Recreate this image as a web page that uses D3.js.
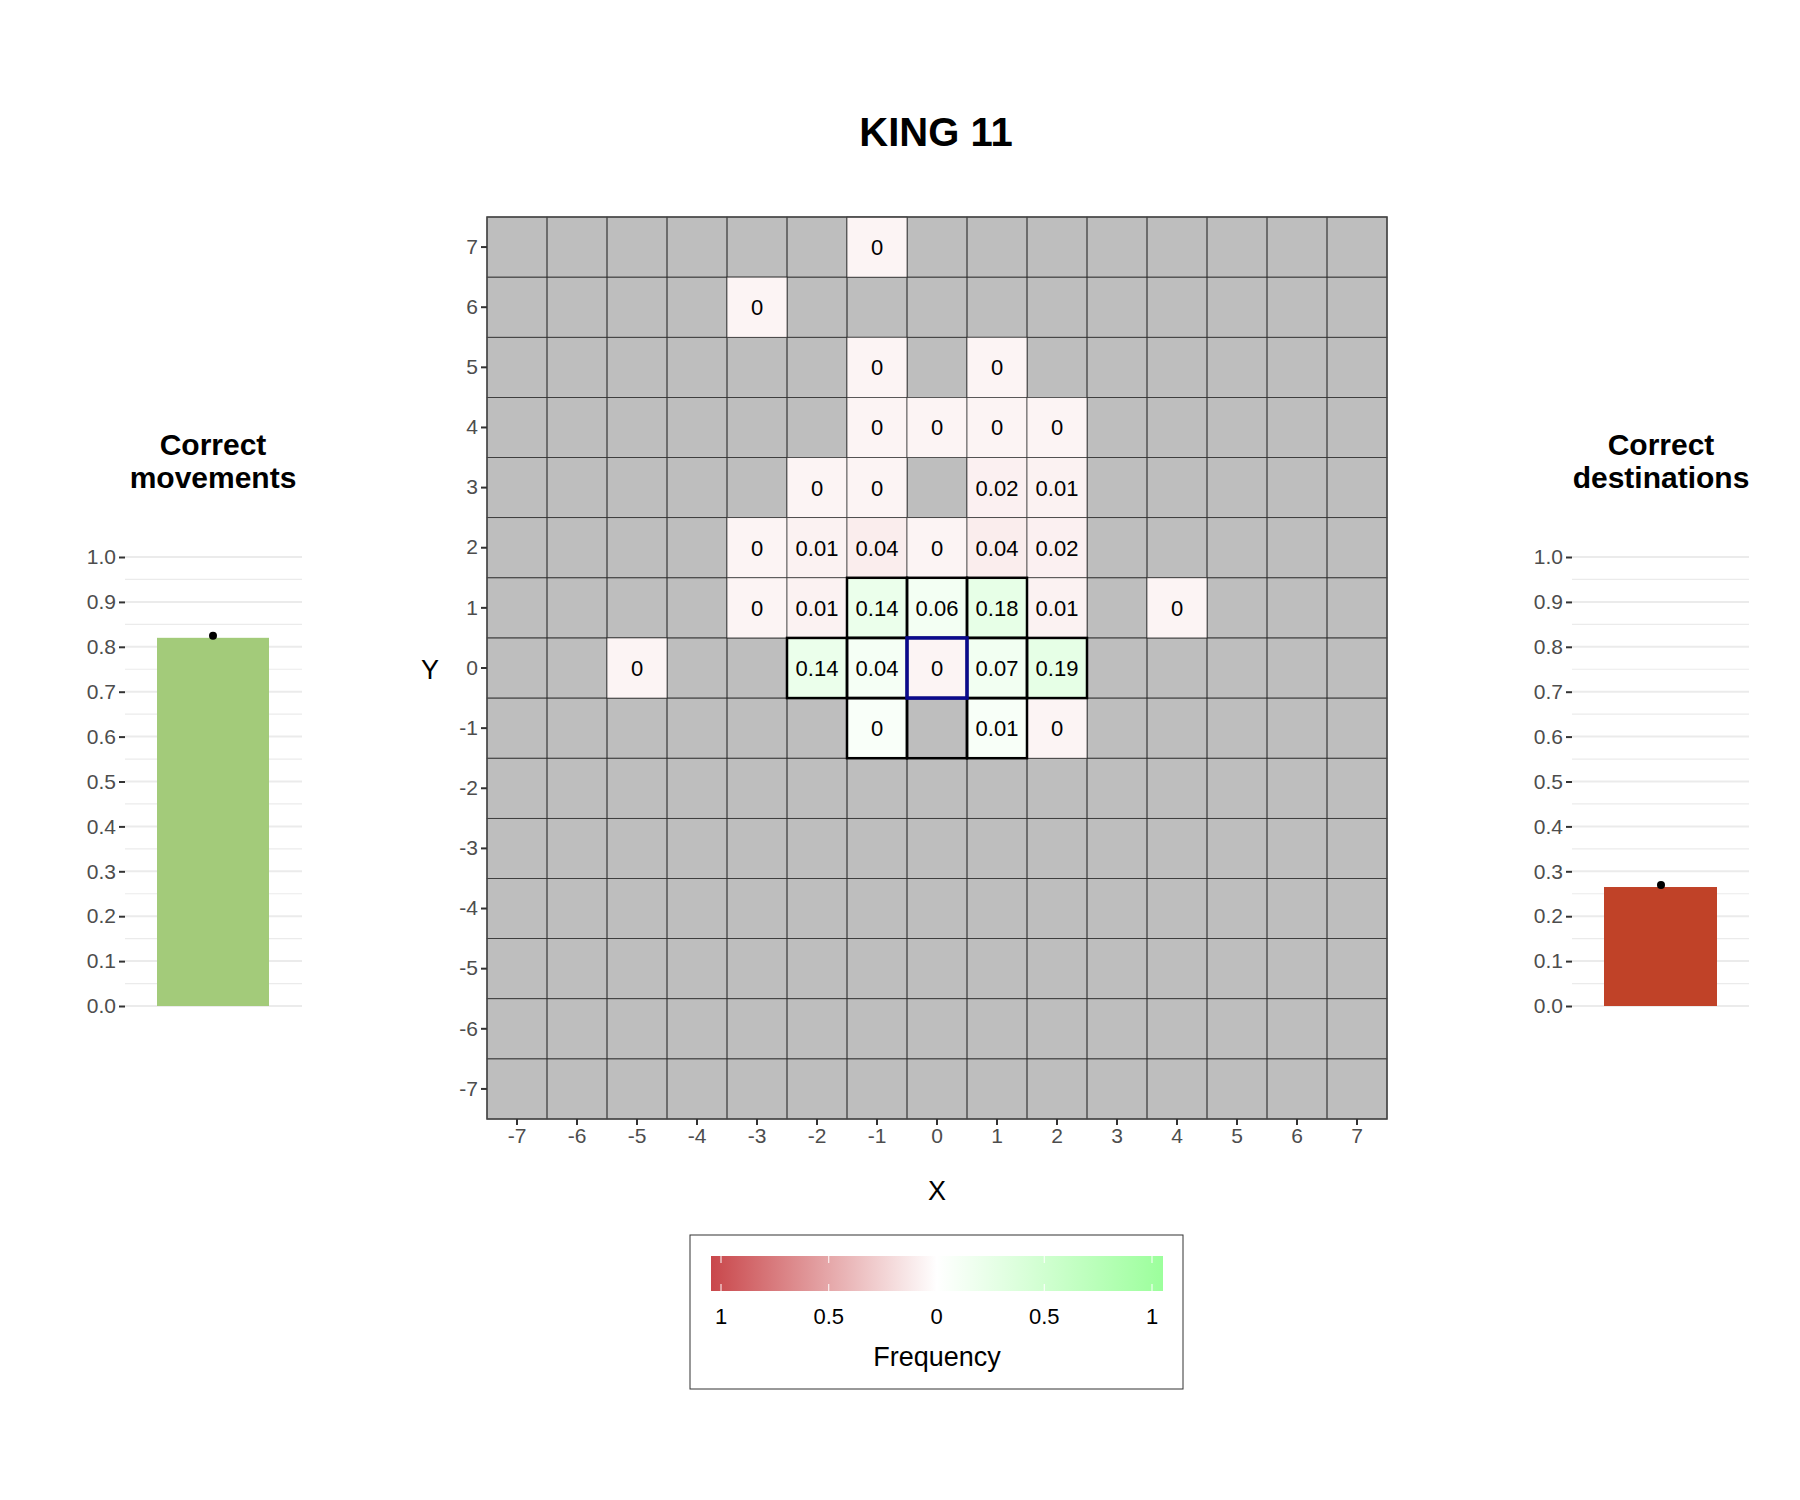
<!DOCTYPE html>
<html><head><meta charset="utf-8">
<script src="https://cdn.jsdelivr.net/npm/d3@7"></script>
<style>body{margin:0;background:#fff;font-family:"Liberation Sans",Arial,sans-serif;}</style>
</head><body>
<script>
// board cells: x, y, frequency, correct (green) or not (red)
var cellX = [-1,-3,-1,1,-1,0,1,2,-2,-1,1,2,-3,-2,-1,0,1,2,-3,-2,-1,0,1,2,4,-5,-2,-1,0,1,2,-1,1,2];
var cellY = [7,6,5,5,4,4,4,4,3,3,3,3,2,2,2,2,2,2,1,1,1,1,1,1,1,0,0,0,0,0,0,-1,-1,-1];
var cellV = [0,0,0,0,0,0,0,0,0,0,0.02,0.01,0,0.01,0.04,0,0.04,0.02,0,0.01,0.14,0.06,0.18,0.01,0,0,0.14,0.04,0,0.07,0.19,0,0.01,0];
var cellOk = [0,0,0,0,0,0,0,0,0,0,0,0,0,0,0,0,0,0,0,0,1,1,1,0,0,0,1,1,0,1,1,1,1,0];
// legal king moves (outlined)
var legalX = [-1,0,1,-2,-1,1,2,-1,0,1];
var legalY = [1,1,1,0,0,0,0,-1,-1,-1];
var startPos = [0,0];
var ticks = d3.range(-7,8);
var barTitles = ["Correct movements","Correct destinations"];
var barValues = [0.82,0.265];
var barColors = ["#a3cb7a","#c04228"];

var svg = d3.select("body").append("svg").attr("width",1800).attr("height",1500);

svg.append("text").attr("x",936).attr("y",146).attr("text-anchor","middle")
  .style("font-size","40px").style("font-weight","bold").text("KING 11");

var x = d3.scaleBand().domain(ticks).range([487,1387]);
var y = d3.scaleBand().domain(ticks.slice().reverse()).range([217,1119]);
var redS = d3.interpolateRgb("#ffffff","#c9474b");
var greenS = d3.interpolateRgb("#ffffff","#9cff9c");
function fillOf(v,ok){ var t = Math.min(1, 0.06 + v); return ok ? greenS(t) : redS(t); }

var g = svg.append("g");
g.append("rect").attr("x",487).attr("y",217).attr("width",900).attr("height",902).attr("fill","#bebebe");
ticks.forEach(function(cx){ ticks.forEach(function(cy){
  g.append("rect").attr("x",x(cx)).attr("y",y(cy)).attr("width",x.bandwidth()).attr("height",y.bandwidth())
   .attr("fill","none").attr("stroke","#333").attr("stroke-width",0.7);
});});
cellX.forEach(function(cx,i){
  g.append("rect").attr("x",x(cx)).attr("y",y(cellY[i])).attr("width",x.bandwidth()).attr("height",y.bandwidth())
   .attr("fill",fillOf(cellV[i],cellOk[i])).attr("stroke","#333").attr("stroke-width",0.7);
});
legalX.forEach(function(cx,i){
  g.append("rect").attr("x",x(cx)).attr("y",y(legalY[i])).attr("width",x.bandwidth()).attr("height",y.bandwidth())
   .attr("fill","none").attr("stroke","#000").attr("stroke-width",2.5);
});
g.append("rect").attr("x",x(startPos[0])).attr("y",y(startPos[1])).attr("width",x.bandwidth()).attr("height",y.bandwidth())
 .attr("fill","none").attr("stroke","#0a0a8c").attr("stroke-width",3.5);
cellX.forEach(function(cx,i){
  g.append("text").attr("x",x(cx)+x.bandwidth()/2).attr("y",y(cellY[i])+y.bandwidth()/2+8)
   .attr("text-anchor","middle").style("font-size","22px").text(cellV[i]);
});
g.append("rect").attr("x",487).attr("y",217).attr("width",900).attr("height",902)
 .attr("fill","none").attr("stroke","#444").attr("stroke-width",1.5);

var xa = svg.append("g").attr("transform","translate(0,1119)").call(d3.axisBottom(x).tickSize(6));
var ya = svg.append("g").attr("transform","translate(487,0)").call(d3.axisLeft(y).tickSize(6));
[xa,ya].forEach(function(a){
  a.select(".domain").remove();
  a.selectAll("text").style("font-size","21px").attr("fill","#4d4d4d").style("font-family","Liberation Sans, Arial");
  a.selectAll("line").attr("stroke","#333").attr("stroke-width",2);
});
svg.append("text").attr("x",937).attr("y",1200).attr("text-anchor","middle").style("font-size","27px").text("X");
svg.append("text").attr("x",430).attr("y",679).attr("text-anchor","middle").style("font-size","27px").text("Y");

// legend
svg.append("rect").attr("x",690).attr("y",1235).attr("width",493).attr("height",154)
  .attr("fill","#fff").attr("stroke","#333").attr("stroke-width",1);
var grad = svg.append("defs").append("linearGradient").attr("id","lg");
grad.append("stop").attr("offset","0%").attr("stop-color","#c9474b");
grad.append("stop").attr("offset","50%").attr("stop-color","#ffffff");
grad.append("stop").attr("offset","100%").attr("stop-color","#9cff9c");
var lx = d3.scaleLinear().domain([-1,1]).range([721,1152]);
svg.append("rect").attr("x",711).attr("y",1256).attr("width",452).attr("height",35).attr("fill","url(#lg)");
[-1,-0.5,0,0.5,1].forEach(function(v){
  svg.append("line").attr("x1",lx(v)).attr("x2",lx(v)).attr("y1",1256).attr("y2",1263).attr("stroke","#fff");
  svg.append("line").attr("x1",lx(v)).attr("x2",lx(v)).attr("y1",1284).attr("y2",1291).attr("stroke","#fff");
  svg.append("text").attr("x",lx(v)).attr("y",1324).attr("text-anchor","middle").style("font-size","22px").text(Math.abs(v));
});
svg.append("text").attr("x",937).attr("y",1366).attr("text-anchor","middle").style("font-size","27px").text("Frequency");

// side bars
var panels = [{x0:125,x1:302,bx0:157,bx1:269,cx:213},{x0:1572,x1:1749,bx0:1604,bx1:1717,cx:1661}];
var by = d3.scaleLinear().domain([0,1]).range([1006,557]);
panels.forEach(function(p,i){
  var pg = svg.append("g");
  d3.range(0,1.01,0.05).forEach(function(v){
    pg.append("line").attr("x1",p.x0).attr("x2",p.x1).attr("y1",by(v)).attr("y2",by(v))
      .attr("stroke","#ebebeb").attr("stroke-width",Math.round(v*20)%2==0?2:1.2);
  });
  var ax = pg.append("g").attr("transform","translate("+p.x0+",0)")
    .call(d3.axisLeft(by).tickValues(d3.range(0,1.01,0.1)).tickFormat(d3.format(".1f")).tickSize(6));
  ax.select(".domain").remove();
  ax.selectAll("text").style("font-size","21px").attr("fill","#4d4d4d").style("font-family","Liberation Sans, Arial");
  ax.selectAll("line").attr("stroke","#333").attr("stroke-width",2);
  pg.append("rect").attr("x",p.bx0).attr("y",by(barValues[i])).attr("width",p.bx1-p.bx0)
    .attr("height",by(0)-by(barValues[i])).attr("fill",barColors[i]);
  pg.append("circle").attr("cx",p.cx).attr("cy",by(barValues[i])-2).attr("r",4).attr("fill","#000");
  var words = barTitles[i].split(" ");
  words.forEach(function(w,k){
    pg.append("text").attr("x",p.cx).attr("y",455+k*33).attr("text-anchor","middle")
      .style("font-size","30px").style("font-weight","bold").text(w);
  });
});
</script>
</body></html>
